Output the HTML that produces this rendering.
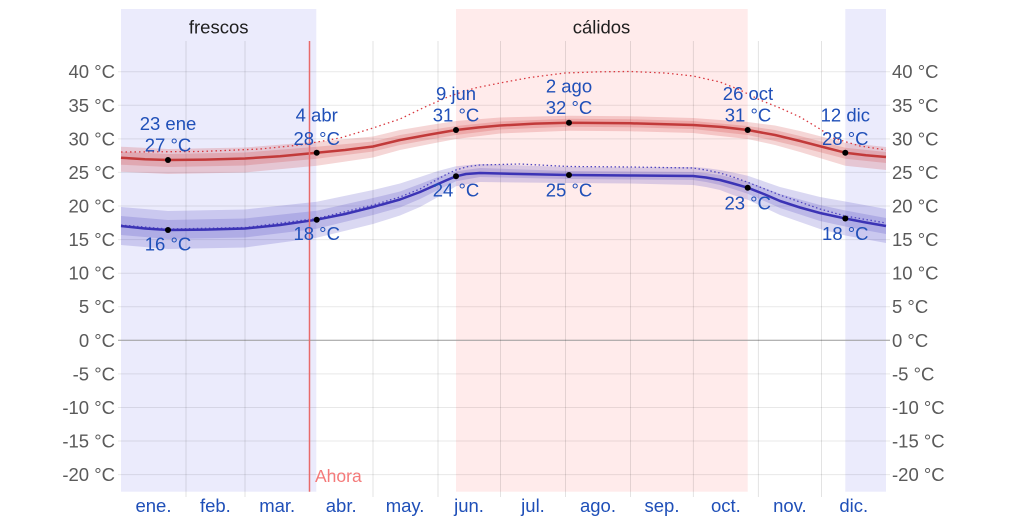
<!DOCTYPE html>
<html><head><meta charset="utf-8"><style>
html,body{margin:0;padding:0;background:#fff;}
svg{display:block;}
text{font-family:"Liberation Sans",Arial,sans-serif;}
</style></head><body>
<svg width="1024" height="527" viewBox="0 0 1024 527" xmlns="http://www.w3.org/2000/svg">
<!-- season shading -->
<rect x="121" y="9" width="195.3" height="482.7" fill="#ebebfc"/>
<rect x="456" y="9" width="291.7" height="482.7" fill="#ffebeb"/>
<rect x="845.3" y="9" width="40.7" height="482.7" fill="#ebebfc"/>

<!-- horizontal grid -->
<g stroke="#000" stroke-opacity="0.09" stroke-width="1">
<line x1="118" y1="71.7" x2="890" y2="71.7"/>
<line x1="118" y1="105.3" x2="890" y2="105.3"/>
<line x1="118" y1="138.9" x2="890" y2="138.9"/>
<line x1="118" y1="172.4" x2="890" y2="172.4"/>
<line x1="118" y1="206" x2="890" y2="206"/>
<line x1="118" y1="239.6" x2="890" y2="239.6"/>
<line x1="118" y1="273.2" x2="890" y2="273.2"/>
<line x1="118" y1="306.7" x2="890" y2="306.7"/>
<line x1="118" y1="373.9" x2="890" y2="373.9"/>
<line x1="118" y1="407.5" x2="890" y2="407.5"/>
<line x1="118" y1="441" x2="890" y2="441"/>
<line x1="118" y1="474.6" x2="890" y2="474.6"/>
</g>
<line x1="118" y1="340.3" x2="890" y2="340.3" stroke="#9a9a9a" stroke-width="1"/>

<!-- vertical grid -->
<g stroke="#000" stroke-opacity="0.11" stroke-width="1">
<line x1="186" y1="41" x2="186" y2="497"/>
<line x1="245" y1="41" x2="245" y2="497"/>
<line x1="373" y1="41" x2="373" y2="497"/>
<line x1="438" y1="41" x2="438" y2="497"/>
<line x1="500.5" y1="41" x2="500.5" y2="497"/>
<line x1="565.5" y1="41" x2="565.5" y2="497"/>
<line x1="630.5" y1="41" x2="630.5" y2="497"/>
<line x1="693.4" y1="41" x2="693.4" y2="497"/>
<line x1="758.4" y1="41" x2="758.4" y2="497"/>
<line x1="821.5" y1="41" x2="821.5" y2="497"/>
</g>

<!-- red bands -->
<polygon fill="#cd3232" fill-opacity="0.2" points="121,146.7 168,149 245,147.5 316.7,141.7 373,136.5 400,130 430,125 456,121 500,117.5 569,115.7 630,116.3 693,118 747.7,122 775,125.5 800,131 845.3,142.7 886,147 886,170 845.3,165.7 800,152 775,145 747.7,139 693,133 630,131.3 569,130.7 500,133.5 456,139 430,144 400,150 373,157.5 316.7,165.7 245,172.5 168,174 121,171.7"/>
<polygon fill="#cd3232" fill-opacity="0.2" points="121,151.7 168,154 245,152.5 316.7,146.7 373,141.5 400,135 430,130 456,126 500,121.5 569,118.7 630,119.3 693,121 747.7,126 775,130 800,136 845.3,147.7 886,152 886,163 845.3,158.7 800,147 775,141 747.7,135 693,129 630,127.3 569,126.7 500,129.5 456,135 430,139.5 400,145 373,151.5 316.7,158.7 245,165.5 168,167 121,164.7"/>

<!-- blue bands -->
<polygon fill="#463cbe" fill-opacity="0.2" points="121,207 168,211 245,209.5 316.7,201.7 373,190 400,183.5 420,177 438,171 456,166.3 480,164 569,167 630,167.5 693,167 706,168 720,170 733,172.5 747.7,175.7 780,187 820,197 845.3,201.5 886,209 886,243 845.3,235.5 820,229 780,215 747.7,199.7 733,195 720,190 706,187 693,185 630,183.5 569,183 480,182 456,186.3 438,197 420,207 400,215.5 373,224 316.7,237.7 245,247.5 168,249 121,245"/>
<polygon fill="#463cbe" fill-opacity="0.2" points="121,216 168,220 245,218.5 316.7,210.7 373,198 400,191.5 420,184 438,177 456,171.3 480,168 569,171 630,171.5 693,172 706,173 720,175 733,178 747.7,181.7 780,194 820,205 845.3,210.5 886,218 886,234 845.3,226.5 820,221 780,208 747.7,193.7 733,189 720,185 706,182 693,180 630,179.5 569,179 480,177 456,181.3 438,190 420,199 400,207.5 373,215 316.7,228.7 245,237.5 168,239 121,235"/>

<!-- dotted feels-like lines -->
<polyline fill="none" stroke="#d9383f" stroke-width="1.3" stroke-dasharray="1.5 3" points="121,152 200,151.5 260,149 300,145 340,138 370,129 400,119 425,107 450,96 475,88 500,83 530,77.5 565,73 600,71.8 630,71.5 665,73 693,76 720,82 740,90 760,100 780,108 800,117 820,129 833,138 860,146 886,150"/>
<polyline fill="none" stroke="#5046c0" stroke-width="1.3" stroke-dasharray="1.5 2.5" points="121,225 168,229 245,227.5 316.7,218.5 373,205 400,197 420,189 438,179 447,174 456,170 468,166.5 480,165 520,164 569,166.5 630,167 693,168 706,170 720,173 733,177 747,182 780,195 820,209 845.3,216 886,223"/>

<!-- main lines -->
<polyline fill="none" stroke="#c23a3a" stroke-width="2.5" stroke-linejoin="round" points="121,157.7 145,159.2 168,160 205,159.6 245,158.5 280,156.3 316.7,152.7 345,150 373,146.5 400,140 430,134.5 456,130 478,127.5 500,125.5 535,123.6 569,122.7 630,123.3 693,125 722,127 747.7,130 775,135 800,141 823,147 845.3,152.7 866,155.3 886,157"/>
<polyline fill="none" stroke="#3b33b5" stroke-width="2.5" stroke-linejoin="round" points="121,226 145,228.5 168,230 205,229.6 245,228.5 280,225 316.7,219.7 345,214 373,207 400,199.5 420,192 438,184 447,180 456,176.3 466,174 480,173 520,174 569,175 630,175.5 693,176 706,177.5 720,180 733,183.5 747.7,187.7 765,194.5 780,201 800,207.5 820,213 845.3,218.5 866,222.5 886,226"/>

<!-- Ahora line -->
<line x1="309.5" y1="41" x2="309.5" y2="491.7" stroke="#e86a6a" stroke-width="1.5"/>
<text x="315" y="482" font-size="17.5" fill="#f47a7a">Ahora</text>

<!-- dots -->
<g fill="#000">
<circle cx="168" cy="160" r="3"/>
<circle cx="316.7" cy="152.7" r="3"/>
<circle cx="456" cy="130" r="3"/>
<circle cx="569" cy="122.7" r="3"/>
<circle cx="747.7" cy="130" r="3"/>
<circle cx="845.3" cy="152.7" r="3"/>
<circle cx="168" cy="230" r="3"/>
<circle cx="316.7" cy="219.7" r="3"/>
<circle cx="456" cy="176.3" r="3"/>
<circle cx="569" cy="175" r="3"/>
<circle cx="747.7" cy="187.7" r="3"/>
<circle cx="845.3" cy="218.5" r="3"/>
</g>

<!-- season labels -->
<g font-size="18.5" fill="#1e1e1e" text-anchor="middle">
<text x="218.7" y="33.5">frescos</text>
<text x="601.5" y="33.5">cálidos</text>
</g>

<!-- point labels -->
<g font-size="18.5" fill="#1f4fb8" text-anchor="middle">
<text x="168" y="130">23 ene</text>
<text x="168" y="151.7">27 °C</text>
<text x="316.7" y="121.7">4 abr</text>
<text x="316.7" y="145">28 °C</text>
<text x="456" y="100">9 jun</text>
<text x="456" y="121.7">31 °C</text>
<text x="569" y="92.7">2 ago</text>
<text x="569" y="114">32 °C</text>
<text x="748" y="100">26 oct</text>
<text x="748" y="121.7">31 °C</text>
<text x="845.3" y="121.7">12 dic</text>
<text x="845.3" y="145">28 °C</text>
<text x="168" y="250.7">16 °C</text>
<text x="316.7" y="240">18 °C</text>
<text x="456" y="196.7">24 °C</text>
<text x="569" y="196.7">25 °C</text>
<text x="747.7" y="209.3">23 °C</text>
<text x="845.3" y="240">18 °C</text>
</g>

<!-- left y labels -->
<g font-size="18.5" fill="#5a5a5a" text-anchor="end">
<text x="115" y="78.2">40 °C</text>
<text x="115" y="111.8">35 °C</text>
<text x="115" y="145.4">30 °C</text>
<text x="115" y="178.9">25 °C</text>
<text x="115" y="212.5">20 °C</text>
<text x="115" y="246.1">15 °C</text>
<text x="115" y="279.7">10 °C</text>
<text x="115" y="313.2">5 °C</text>
<text x="115" y="346.8">0 °C</text>
<text x="115" y="380.4">-5 °C</text>
<text x="115" y="414">-10 °C</text>
<text x="115" y="447.5">-15 °C</text>
<text x="115" y="481.1">-20 °C</text>
</g>
<!-- right y labels -->
<g font-size="18.5" fill="#5a5a5a" text-anchor="start">
<text x="892" y="78.2">40 °C</text>
<text x="892" y="111.8">35 °C</text>
<text x="892" y="145.4">30 °C</text>
<text x="892" y="178.9">25 °C</text>
<text x="892" y="212.5">20 °C</text>
<text x="892" y="246.1">15 °C</text>
<text x="892" y="279.7">10 °C</text>
<text x="892" y="313.2">5 °C</text>
<text x="892" y="346.8">0 °C</text>
<text x="892" y="380.4">-5 °C</text>
<text x="892" y="414">-10 °C</text>
<text x="892" y="447.5">-15 °C</text>
<text x="892" y="481.1">-20 °C</text>
</g>

<!-- month labels -->
<g font-size="18.5" fill="#1f4fb8" text-anchor="middle">
<text x="153.5" y="512">ene.</text>
<text x="215.4" y="512">feb.</text>
<text x="277.2" y="512">mar.</text>
<text x="341.2" y="512">abr.</text>
<text x="405.1" y="512">may.</text>
<text x="469" y="512">jun.</text>
<text x="533" y="512">jul.</text>
<text x="598" y="512">ago.</text>
<text x="662" y="512">sep.</text>
<text x="725.9" y="512">oct.</text>
<text x="789.9" y="512">nov.</text>
<text x="853.8" y="512">dic.</text>
</g>
</svg>
</body></html>
